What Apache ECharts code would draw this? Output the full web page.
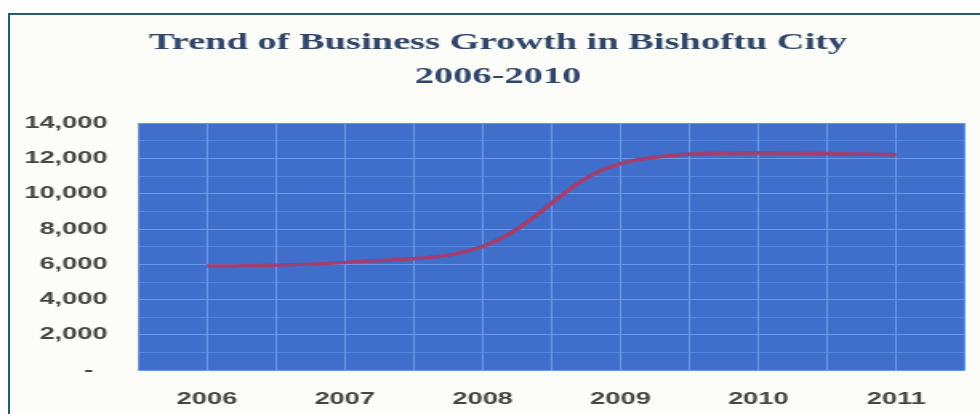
<!DOCTYPE html>
<html>
<head>
<meta charset="utf-8">
<script src="https://cdn.jsdelivr.net/npm/echarts@6/dist/echarts.min.js"></script>
<style>
  html, body { margin: 0; padding: 0; background: #ffffff; width: 980px; height: 414px; overflow: hidden; }
  #frame { position: absolute; left: 8px; top: 13px; width: 1000px; height: 420px;
           border-left: 2px solid #2a5b6b; border-top: 2px solid #2a5b6b; background: #fcfdf9; }
  #chart { position: absolute; left: 0; top: 0; width: 612px; height: 414px;
           transform: scaleX(1.6013); transform-origin: 0 0; }
</style>
</head>
<body>
<div id="frame"></div>
<div id="chart"></div>
<script>
// ---- data ----
const titleLine1 = 'Trend of Business Growth in Bishoftu City';
const titleLine2 = '2006-2010';
const years = ['2006', '2007', '2008', '2009', '2010', '2011'];
const businesses = [5900, 6100, 7000, 11700, 12300, 12200];
const yMin = 0, yMax = 14000, yStep = 2000;

const chart = echarts.init(document.getElementById('chart'), null, { renderer: 'canvas' });
const labelFont = { color: '#454545', fontFamily: 'Liberation Sans', fontWeight: 'bold', fontSize: 17 };

chart.setOption({
  animation: false,
  backgroundColor: 'transparent',
  graphic: [
    { type: 'text', x: 311, y: 43, z: 10,
      style: { text: titleLine1, fill: '#2f4569', font: 'bold 24px "Liberation Serif"',
               align: 'center', verticalAlign: 'middle' } },
    { type: 'text', x: 311, y: 77, z: 10,
      style: { text: titleLine2, fill: '#2f4569', font: 'bold 24px "Liberation Serif"',
               align: 'center', verticalAlign: 'middle' } }
  ],
  grid: { left: 86.2, right: 9.3, top: 123, bottom: 44, show: true,
          backgroundColor: '#3f6fcb', borderWidth: 0 },
  xAxis: [
    { type: 'category', data: years, boundaryGap: true,
      axisLine: { show: false }, axisTick: { show: false }, splitLine: { show: false },
      axisLabel: Object.assign({ margin: 21 }, labelFont) },
    { type: 'value', min: 0, max: 12, interval: 1, position: 'top',
      axisLine: { show: false }, axisTick: { show: false }, axisLabel: { show: false },
      splitLine: { show: true, lineStyle: { color: '#6a98e6', width: 1 } } }
  ],
  yAxis: {
    type: 'value', min: yMin, max: yMax, interval: yStep,
    axisLine: { show: false }, axisTick: { show: false },
    splitLine: { show: true, lineStyle: { color: '#6a98e6', width: 1 } },
    minorTick: { show: false, splitNumber: 2 },
    minorSplitLine: { show: true, lineStyle: { color: '#5785da', width: 1 } },
    axisLabel: Object.assign({
      margin: 19,
      formatter: function (v) { return v === 0 ? '{d|-}' : v.toLocaleString('en-US'); },
      rich: { d: Object.assign({ padding: [0, 9, 0, 0] }, labelFont) }
    }, labelFont)
  },
  series: [{
    type: 'line', xAxisIndex: 0, data: businesses, smooth: 0.35,
    symbol: 'none', lineStyle: { color: '#a23f6e', width: 3.5 }
  }]
});
</script>
</body>
</html>
